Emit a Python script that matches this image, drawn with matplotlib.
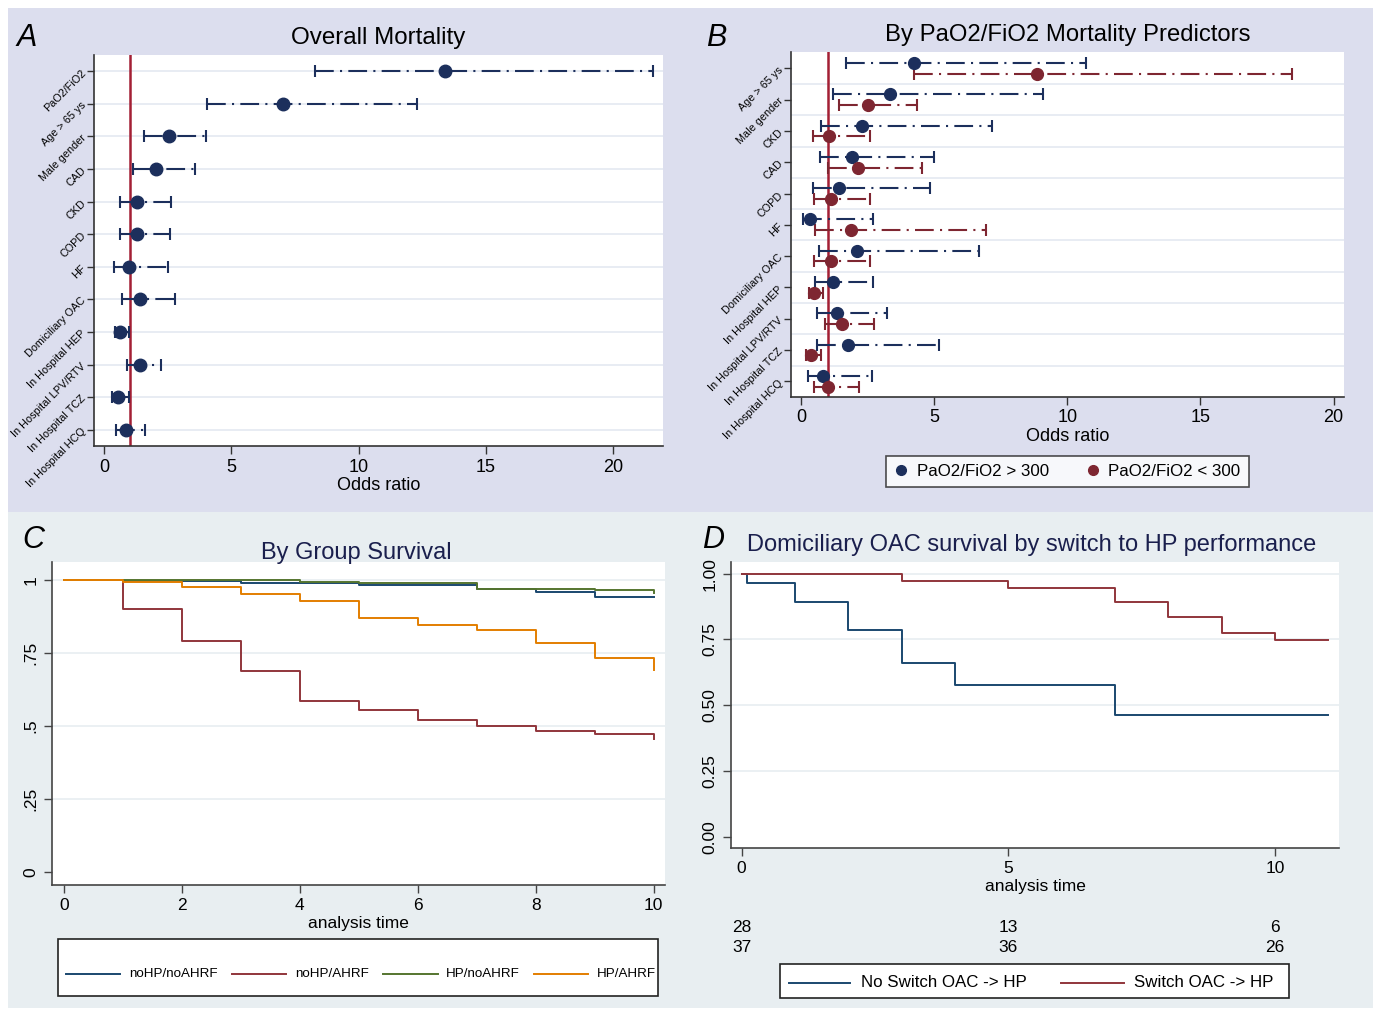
import matplotlib
matplotlib.use("Agg")
import matplotlib.pyplot as plt
from matplotlib.patches import Rectangle
from matplotlib.lines import Line2D
import matplotlib.transforms as mtrans

# ---------------- DATA ----------------
a_labels = ["PaO2/FiO2", "Age > 65 ys", "Male gender", "CAD", "CKD", "COPD", "HF",
            "Domiciliary OAC", "In Hospital HEP", "In Hospital LPV/RTV",
            "In Hospital TCZ", "In Hospital HCQ"]
a_or = [13.39, 7.02, 2.53, 2.02, 1.27, 1.27, 0.96, 1.40, 0.64, 1.42, 0.53, 0.86]
a_lo = [8.30, 4.02, 1.57, 1.14, 0.63, 0.63, 0.37, 0.71, 0.42, 0.89, 0.29, 0.46]
a_hi = [21.55, 12.27, 4.00, 3.56, 2.62, 2.59, 2.51, 2.80, 0.97, 2.24, 0.97, 1.62]
a_xticks = [0, 5, 10, 15, 20]

b_labels = ["Age > 65 ys", "Male gender", "CKD", "CAD", "COPD", "HF", "Domiciliary OAC",
            "In Hospital HEP", "In Hospital LPV/RTV", "In Hospital TCZ", "In Hospital HCQ"]
b_hi_or = [4.23, 3.35, 2.30, 1.90, 1.41, 0.32, 2.10, 1.19, 1.35, 1.76, 0.81]
b_hi_lo = [1.69, 1.22, 0.74, 0.73, 0.44, 0.06, 0.68, 0.54, 0.59, 0.60, 0.26]
b_hi_hi = [10.69, 9.08, 7.19, 4.98, 4.83, 2.72, 6.70, 2.69, 3.23, 5.19, 2.66]
b_lo_or = [8.85, 2.50, 1.06, 2.14, 1.11, 1.89, 1.13, 0.49, 1.55, 0.38, 1.00]
b_lo_lo = [4.23, 1.41, 0.44, 1.01, 0.49, 0.54, 0.50, 0.29, 0.89, 0.20, 0.47]
b_lo_hi = [18.42, 4.36, 2.61, 4.54, 2.61, 6.95, 2.61, 0.83, 2.75, 0.75, 2.18]
b_series = ["PaO2/FiO2 > 300", "PaO2/FiO2 < 300"]

c_groups = ["noHP/noAHRF", "noHP/AHRF", "HP/noAHRF", "HP/AHRF"]
c_t_nohp_noahrf = [0, 1, 3, 5, 7, 8, 9, 10]
c_s_nohp_noahrf = [1.0, 0.997, 0.989, 0.983, 0.968, 0.960, 0.943, 0.943]
c_t_nohp_ahrf = [0, 1, 2, 3, 4, 5, 6, 7, 8, 9, 10]
c_s_nohp_ahrf = [1.0, 0.900, 0.790, 0.687, 0.587, 0.554, 0.519, 0.501, 0.483, 0.474, 0.455]
c_t_hp_noahrf = [0, 4, 5, 7, 9, 10]
c_s_hp_noahrf = [1.0, 0.992, 0.990, 0.971, 0.965, 0.955]
c_t_hp_ahrf = [0, 1, 2, 3, 4, 5, 6, 7, 8, 9, 10]
c_s_hp_ahrf = [1.0, 0.992, 0.975, 0.953, 0.929, 0.870, 0.845, 0.829, 0.786, 0.732, 0.692]
c_yticks = [0, 0.25, 0.5, 0.75, 1]
c_yticklabels = ["0", ".25", ".5", ".75", "1"]

d_groups = ["No Switch OAC -> HP", "Switch OAC -> HP"]
d_t_noswitch = [0, 0.1, 1, 2, 3, 4, 7, 11]
d_s_noswitch = [1.0, 0.963, 0.892, 0.785, 0.661, 0.578, 0.462, 0.462]
d_t_switch = [0, 3, 5, 7, 8, 9, 10, 11]
d_s_switch = [1.0, 0.972, 0.944, 0.892, 0.835, 0.775, 0.747, 0.747]
d_risk_times = [0, 5, 10]
d_risk_noswitch = [28, 13, 6]
d_risk_switch = [37, 36, 26]
d_yticks = [0, 0.25, 0.5, 0.75, 1.0]
d_yticklabels = ["0.00", "0.25", "0.50", "0.75", "1.00"]

# ---------------- STYLE ----------------
W, H = 1373, 1015
plt.rcParams['font.family'] = ['Liberation Sans', 'DejaVu Sans']
NARROW = ['Liberation Sans Narrow', 'Liberation Sans', 'DejaVu Sans']
NAVY = '#1c2f5c'
MAROON = '#7e2631'
REDLINE = '#a31f34'
TOPBG = '#dcdeee'
BOTBG = '#e8eef1'
GRID = '#e4e9f1'
S2_BLUE = '#1a476f'
S2_RED = '#90353b'
S2_GREEN = '#55752f'
S2_ORANGE = '#e37e00'
TITLE_C = '#1a1f4d'

fig = plt.figure(figsize=(W / 100, H / 100), dpi=100)
fig.patch.set_facecolor('white')
fig.patches.append(Rectangle((8 / W, 1 - 512 / H), (1373 - 8) / W, (512 - 8) / H,
                             transform=fig.transFigure, facecolor=TOPBG, edgecolor='none', zorder=-10))
fig.patches.append(Rectangle((8 / W, 1 - 1008 / H), (1373 - 8) / W, (1008 - 512) / H,
                             transform=fig.transFigure, facecolor=BOTBG, edgecolor='none', zorder=-10))


def rect(l, t, r, b):
    return [l / W, 1 - b / H, (r - l) / W, (b - t) / H]


def ftext(x, y, s, **kw):
    fig.text(x / W, 1 - y / H, s, **kw)


DASH = (0, (9, 3, 1, 3))


def forest(ax, ys, ors, los, his, color, ms=9):
    for y, o, l, h in zip(ys, ors, los, his):
        ax.plot([l, h], [y, y], color=color, lw=1.5, linestyle=DASH, zorder=3,
                solid_capstyle='butt', dash_capstyle='butt')
        ax.plot([l, h], [y, y], linestyle='none', marker='|', ms=8, mew=1.5, color=color, zorder=3)
        ax.plot([o], [y], linestyle='none', marker='o', ms=ms, color=color, zorder=4)


def style_forest(ax):
    ax.set_facecolor('white')
    for s in ['top', 'right']:
        ax.spines[s].set_visible(False)
    for s in ['left', 'bottom']:
        ax.spines[s].set_color('#333333')
        ax.spines[s].set_linewidth(1.2)
    ax.tick_params(axis='x', labelsize=13, length=6, width=1, color='#333333', pad=3)
    ax.tick_params(axis='y', labelsize=7.8, length=5, width=1, color='#333333', pad=2)


# ---------------- PANEL A ----------------
axA = fig.add_axes(rect(94, 55, 663, 446))
style_forest(axA)
ya = list(range(len(a_labels)))
for y in ya:
    axA.axhline(y, color=GRID, lw=1.2, zorder=0)
axA.axvline(1, color=REDLINE, lw=1.8, zorder=2)
forest(axA, ya, a_or, a_lo, a_hi, NAVY)
axA.set_xlim(-0.4, 21.95)
axA.set_ylim(11.5, -0.5)
axA.set_yticks(ya)
axA.set_yticklabels(a_labels, rotation=45, ha='right', va='center', rotation_mode='anchor')
axA.set_xticks(a_xticks)
axA.set_xlabel("Odds ratio", fontsize=13, labelpad=1)
ftext(378, 38, "Overall Mortality", fontsize=17.4, ha='center', va='center', color='black')
ftext(27, 38, "A", fontsize=22, style='italic', ha='center', va='center', color='black')

# ---------------- PANEL B ----------------
axB = fig.add_axes(rect(791, 52, 1344, 397))
style_forest(axB)
yb = list(range(len(b_labels)))
for y in yb[:-1]:
    axB.axhline(y + 0.5, color=GRID, lw=1.2, zorder=0)
axB.axvline(1, color=REDLINE, lw=1.8, zorder=2)
off = 0.17
forest(axB, [y - off for y in yb], b_hi_or, b_hi_lo, b_hi_hi, NAVY, ms=8.5)
forest(axB, [y + off for y in yb], b_lo_or, b_lo_lo, b_lo_hi, MAROON, ms=8.5)
axB.set_xlim(-0.375, 20.39)
axB.set_ylim(10.5, -0.52)
axB.set_yticks(yb)
axB.set_yticklabels(b_labels, rotation=45, ha='right', va='center', rotation_mode='anchor')
axB.set_xticks(a_xticks)
axB.set_xlabel("Odds ratio", fontsize=13, labelpad=1)
ftext(1068, 35, "By PaO2/FiO2 Mortality Predictors", fontsize=17.2, ha='center', va='center', color='black')
ftext(716, 38, "B", fontsize=22, style='italic', ha='center', va='center', color='black')
hb = [Line2D([], [], linestyle='none', marker='o', ms=7, color=NAVY),
      Line2D([], [], linestyle='none', marker='o', ms=7, color=MAROON)]
legB = fig.legend(hb, b_series, loc='center', bbox_to_anchor=(1067.5 / W, 1 - 471.5 / H), ncol=2,
                  fontsize=12.2, frameon=True, fancybox=False, edgecolor='#222222',
                  handlelength=0.8, handletextpad=0.5, columnspacing=2.2, borderpad=0.5)
legB.get_frame().set_linewidth(1.2)


# ---------------- PANEL C ----------------
def style_km(ax):
    ax.set_facecolor('white')
    for s in ['top', 'right']:
        ax.spines[s].set_visible(False)
    for s in ['left', 'bottom']:
        ax.spines[s].set_color('#444444')
        ax.spines[s].set_linewidth(1.2)
    ax.tick_params(length=6, width=1, color='#444444', labelsize=12.5)
    for lab in ax.get_xticklabels() + ax.get_yticklabels():
        lab.set_family(NARROW)


axC = fig.add_axes(rect(52, 562, 665, 885))
for v in [0.25, 0.5, 0.75, 1.0]:
    axC.axhline(v, color=BOTBG, lw=1.2, zorder=0)
c_series = [(c_t_nohp_noahrf, c_s_nohp_noahrf, S2_BLUE),
            (c_t_nohp_ahrf, c_s_nohp_ahrf, S2_RED),
            (c_t_hp_noahrf, c_s_hp_noahrf, S2_GREEN),
            (c_t_hp_ahrf, c_s_hp_ahrf, S2_ORANGE)]
for t, s, col in c_series:
    axC.step(t, s, where='post', color=col, lw=1.4, zorder=3)
axC.set_xlim(-0.2, 10.19)
axC.set_ylim(-0.045, 1.062)
axC.set_xticks([0, 2, 4, 6, 8, 10])
axC.set_yticks(c_yticks)
axC.set_yticklabels(c_yticklabels, rotation=90, va='center')
style_km(axC)
axC.set_xlabel("analysis time", fontsize=12.5, family=NARROW, labelpad=2)
ftext(356, 553, "By Group Survival", fontsize=17, family=NARROW, ha='center', va='center', color=TITLE_C)
ftext(33, 540, "C", fontsize=22, style='italic', ha='center', va='center', color='black')

# C legend (manual box like Stata)
fig.patches.append(Rectangle((58 / W, 1 - 996 / H), (658 - 58) / W, (996 - 939) / H,
                             transform=fig.transFigure, facecolor='white', edgecolor='#222222', lw=1.2, zorder=5))
c_leg_lines = [(66, 120, 129), (232, 286, 295), (383, 438, 446), (534, 588, 597)]
for (x0, x1, xt), (t, s, col), lab in zip(c_leg_lines, c_series, c_groups):
    fig.add_artist(Line2D([x0 / W, x1 / W], [1 - 974 / H, 1 - 974 / H], color=col, lw=1.4,
                          transform=fig.transFigure, zorder=6))
    ftext(xt, 974, lab, fontsize=9.6, family=NARROW, ha='left', va='center', zorder=6)

# ---------------- PANEL D ----------------
axD = fig.add_axes(rect(731, 562, 1339, 848))
for v in [0.25, 0.5, 0.75, 1.0]:
    axD.axhline(v, color=BOTBG, lw=1.2, zorder=0)
axD.step(d_t_noswitch, d_s_noswitch, where='post', color=S2_BLUE, lw=1.4, zorder=3)
axD.step(d_t_switch, d_s_switch, where='post', color=S2_RED, lw=1.4, zorder=3)
axD.set_xlim(-0.2, 11.2)
axD.set_ylim(-0.042, 1.044)
axD.set_xticks([0, 5, 10])
axD.set_yticks(d_yticks)
axD.set_yticklabels(d_yticklabels, rotation=90, va='center')
style_km(axD)
axD.set_xlabel("analysis time", fontsize=12.5, family=NARROW, labelpad=2)
ftext(1032, 545, "Domiciliary OAC survival by switch to HP performance", fontsize=17, family=NARROW,
      ha='center', va='center', color=TITLE_C)
ftext(713, 540, "D", fontsize=22, style='italic', ha='center', va='center', color='black')

trD = mtrans.blended_transform_factory(axD.transData, fig.transFigure)
for tt, n1, n2 in zip(d_risk_times, d_risk_noswitch, d_risk_switch):
    axD.text(tt, 1 - 927 / H, str(n1), transform=trD, ha='center', va='center', fontsize=12.5, family=NARROW)
    axD.text(tt, 1 - 947 / H, str(n2), transform=trD, ha='center', va='center', fontsize=12.5, family=NARROW)

fig.patches.append(Rectangle((780 / W, 1 - 998 / H), (1289 - 780) / W, (998 - 964) / H,
                             transform=fig.transFigure, facecolor='white', edgecolor='#222222', lw=1.2, zorder=5))
for (x0, x1, xt), col, lab in zip([(789, 850, 861), (1061, 1124, 1134)], [S2_BLUE, S2_RED], d_groups):
    fig.add_artist(Line2D([x0 / W, x1 / W], [1 - 982.5 / H, 1 - 982.5 / H], color=col, lw=1.4,
                          transform=fig.transFigure, zorder=6))
    ftext(xt, 982.5, lab, fontsize=12.2, family=NARROW, ha='left', va='center', zorder=6)

fig.savefig("out.png", dpi=100, facecolor=fig.get_facecolor())
